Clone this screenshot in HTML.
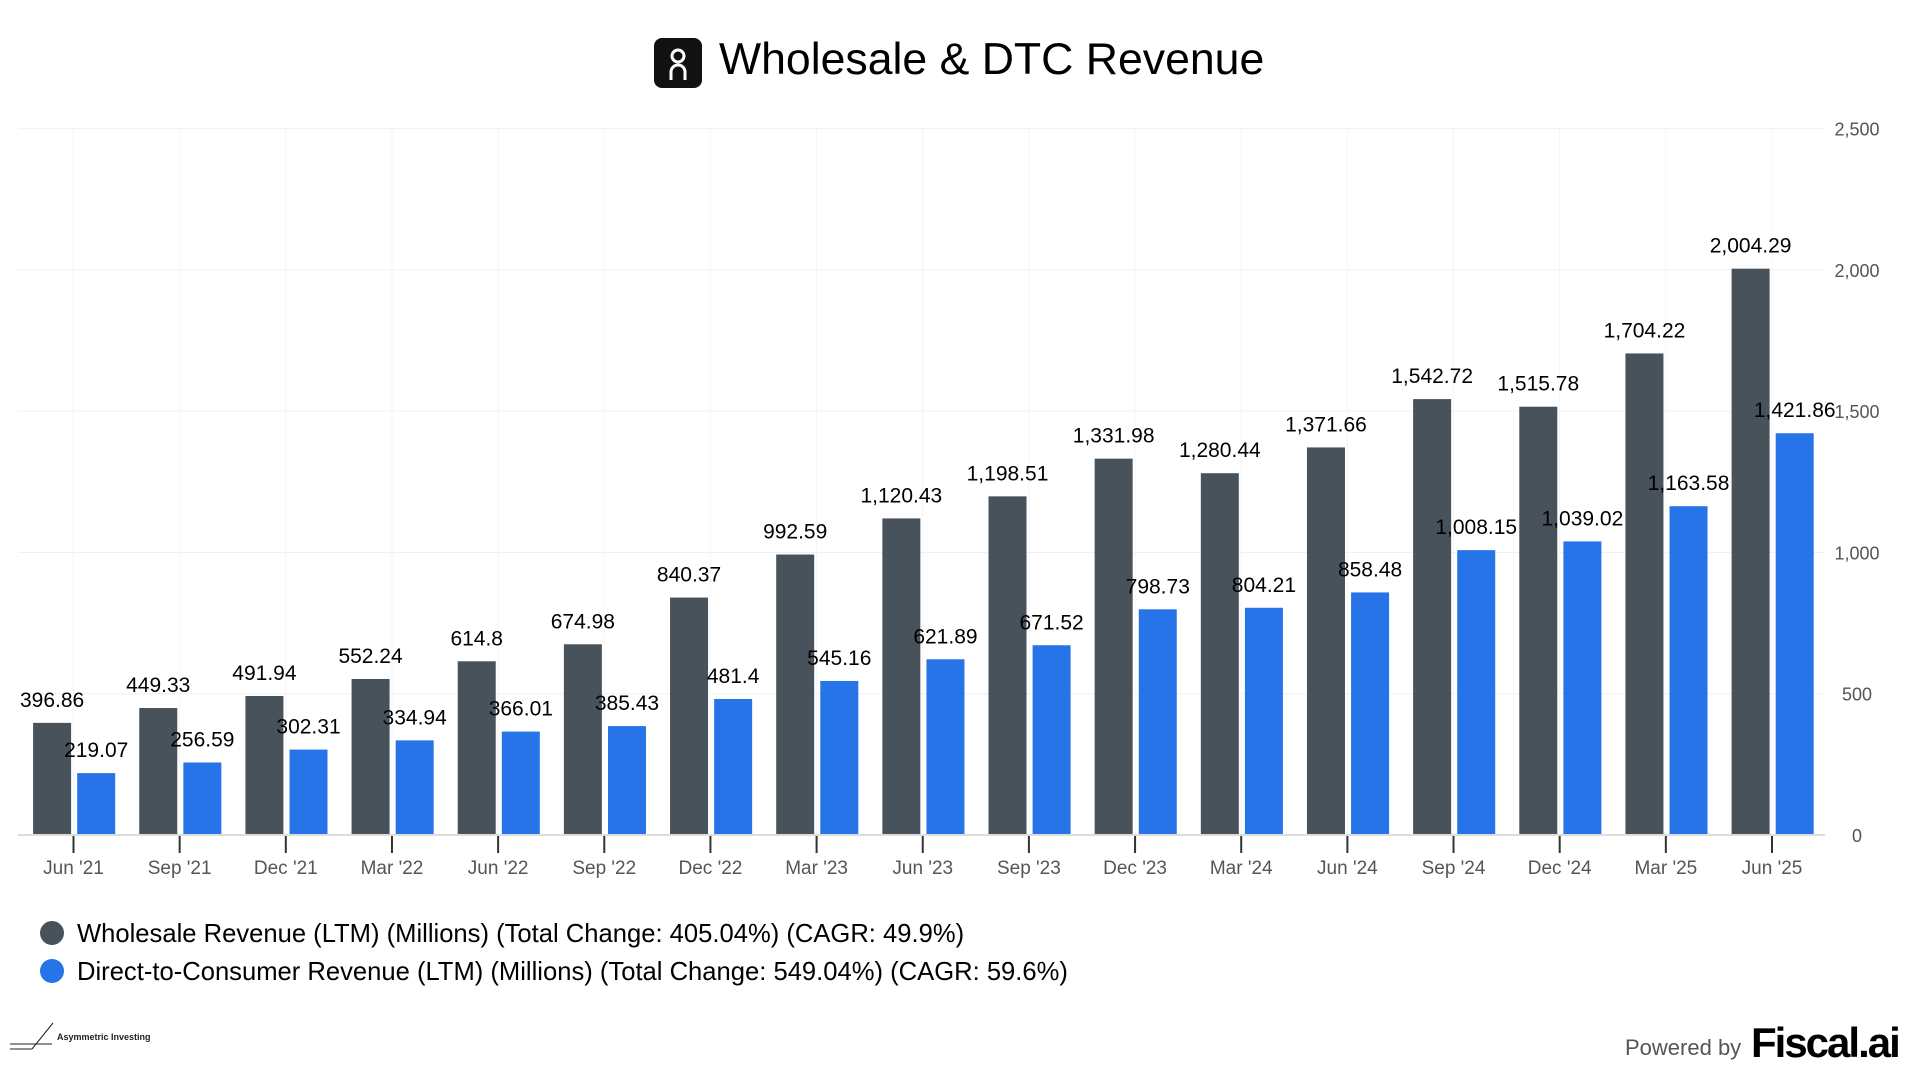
<!DOCTYPE html>
<html><head><meta charset="utf-8"><style>
html,body{margin:0;padding:0;background:#fff;width:1920px;height:1080px;overflow:hidden}
svg{display:block;font-family:"Liberation Sans",Arial,sans-serif}
</style></head><body>
<svg id="chart" width="1920" height="1080" viewBox="0 0 1920 1080">
  <g>
    <rect x="654" y="38" width="48" height="50" rx="8" fill="#111"/>
    <circle cx="678" cy="56" r="6" fill="none" stroke="#fff" stroke-width="3"/>
    <path d="M671 80 V72 a7 7 0 0 1 14 0 V80" fill="none" stroke="#fff" stroke-width="3"/>
    <text x="719" y="74" font-size="44.6" fill="#000">Wholesale &amp; DTC Revenue</text>
  </g>
  <g id="grid"></g>
  <g id="bars"></g>
  <g id="xaxis"></g>
  <g id="yaxis"></g>
  <g>
    <g>
      <circle cx="52" cy="933" r="12" fill="#48525b"/>
      <text x="77" y="942" font-size="25.6" fill="#000">Wholesale Revenue (LTM) (Millions) (Total Change: 405.04%) (CAGR: 49.9%)</text>
    </g>
    <g>
      <circle cx="52" cy="971" r="12" fill="#2773e8"/>
      <text x="77" y="980" font-size="25.6" fill="#000">Direct-to-Consumer Revenue (LTM) (Millions) (Total Change: 549.04%) (CAGR: 59.6%)</text>
    </g>
  </g>
  <g>
    <line x1="10" y1="1044" x2="52" y2="1044" stroke="#222" stroke-width="1"/>
    <line x1="10" y1="1049" x2="32" y2="1049" stroke="#222" stroke-width="1"/>
    <line x1="32" y1="1049" x2="53" y2="1023" stroke="#222" stroke-width="1"/>
    <text x="57" y="1040" font-size="9" font-weight="bold" fill="#222">Asymmetric Investing</text>
  </g>
  <text x="1625" y="1055" font-size="22" fill="#555">Powered by</text>
  <text x="1751" y="1057" font-size="42" fill="#000" font-weight="bold" letter-spacing="-2">Fiscal.ai</text>
</svg>
<script>
const categories = ["Jun '21","Sep '21","Dec '21","Mar '22","Jun '22","Sep '22","Dec '22","Mar '23","Jun '23","Sep '23","Dec '23","Mar '24","Jun '24","Sep '24","Dec '24","Mar '25","Jun '25"];
const wholesale = [396.86,449.33,491.94,552.24,614.8,674.98,840.37,992.59,1120.43,1198.51,1331.98,1280.44,1371.66,1542.72,1515.78,1704.22,2004.29];
const dtc = [219.07,256.59,302.31,334.94,366.01,385.43,481.4,545.16,621.89,671.52,798.73,804.21,858.48,1008.15,1039.02,1163.58,1421.86];
const yTicks = [0,500,1000,1500,2000,2500];

const NS="http://www.w3.org/2000/svg";
const y0=835, yTop=128.6, yMax=2500;
function yScale(v){return y0-(v/yMax)*(y0-yTop);}
function xScale(i){return 73.5+i*(1772-73.5)/(categories.length-1);}
function mk(tag,attrs,parent,txt){const e=document.createElementNS(NS,tag);for(const k in attrs)e.setAttribute(k,attrs[k]);if(txt!==undefined)e.textContent=txt;parent.appendChild(e);return e;}
function fmt(v){return v.toLocaleString('en-US',{maximumFractionDigits:2});}

const grid=document.getElementById('grid'), bars=document.getElementById('bars'), xa=document.getElementById('xaxis'), ya=document.getElementById('yaxis');
yTicks.forEach(t=>{
  const y=yScale(t);
  if(t>0){const l=mk('line',{x1:18,x2:1825,y1:y,y2:y,stroke:'#f0f0f0','stroke-width':1},grid);
  
  }
  const tx=mk('text',{x:1857,y:y+7,'font-size':18,fill:'#555','text-anchor':'middle'},ya,fmt(t));
  
  
});
categories.forEach((c,i)=>{
  const x=xScale(i);
  const g=mk('line',{x1:x,x2:x,y1:128,y2:835,stroke:'#f5f5f5','stroke-width':1},grid);
  
  
});
const bw=38;
categories.forEach((c,i)=>{
  const x=xScale(i);
  [[wholesale[i],-21.4,'#48525b','wholesale'],[dtc[i],22.7,'#2773e8','dtc']].forEach(([v,off,col,nm])=>{
    const cx=x+off, yt=yScale(v);
    const r=mk('rect',{x:cx-bw/2,y:yt,width:bw,height:y0-yt,fill:col},bars);
    
    
    const t=mk('text',{x:cx,y:yt-16,'font-size':21,fill:'#000','text-anchor':'middle'},bars,fmt(v));
    
    
  });
  const tk=mk('line',{x1:x,x2:x,y1:836,y2:853,stroke:'#333','stroke-width':2},xa);
  
  
  const lb=mk('text',{x:x,y:874,'font-size':19,fill:'#555','text-anchor':'middle'},xa,c);
  
  
});
const ax=mk('line',{x1:18,x2:1825,y1:835,y2:835,stroke:'#ddd','stroke-width':2},xa);


</script>
</body></html>
